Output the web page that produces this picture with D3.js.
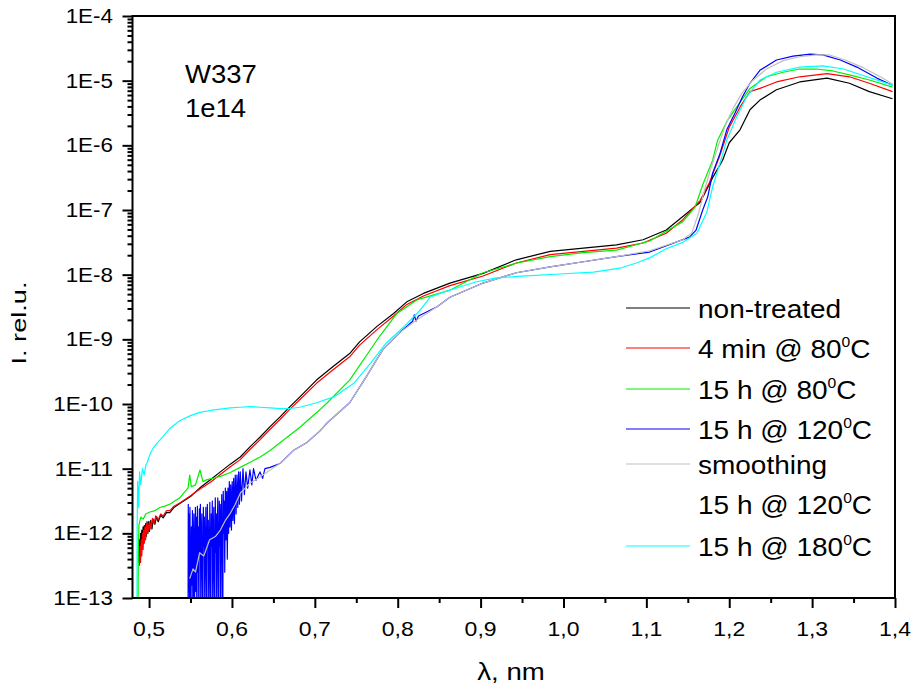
<!DOCTYPE html>
<html><head><meta charset="utf-8">
<script src="https://cdn.jsdelivr.net/npm/d3@7"></script>
<style>
body{margin:0;background:#fff;}
text{font-family:"Liberation Sans",Arial,sans-serif;fill:#000;}
</style>
</head><body>
<svg id="c" width="912" height="685"></svg>
<script>
// ---------- DATA (wavelength nm, log10 of relative intensity) ----------
const xTicks = [0.5,0.6,0.7,0.8,0.9,1.0,1.1,1.2,1.3,1.4];
const xTickLabels = ["0,5","0,6","0,7","0,8","0,9","1,0","1,1","1,2","1,3","1,4"];
const yTickExps = [-4,-5,-6,-7,-8,-9,-10,-11,-12,-13];
const yTickLabels = ["1E-4","1E-5","1E-6","1E-7","1E-8","1E-9","1E-10","1E-11","1E-12","1E-13"];

const nonTreated = [
[0.4875,-12.45],[0.4882,-12.1],[0.489,-12.35],[0.4897,-12.0],[0.4905,-12.3],[0.4912,-11.95],[0.492,-12.2],
[0.4928,-11.9],[0.4935,-12.15],[0.4943,-11.88],[0.495,-12.1],[0.4958,-11.85],[0.4965,-12.05],[0.4975,-11.82],
[0.4985,-12.0],[0.4995,-11.82],[0.5005,-11.97],[0.502,-11.8],[0.5035,-11.93],[0.505,-11.78],[0.507,-11.86],
[0.509,-11.74],[0.511,-11.82],[0.514,-11.72],[0.517,-11.76],[0.521,-11.68],[0.525,-11.68],[0.530,-11.6],
[0.537,-11.54],[0.550,-11.43],[0.561,-11.3],[0.574,-11.17],[0.586,-11.05],[0.598,-10.93],[0.610,-10.82],
[0.622,-10.66],[0.634,-10.51],[0.646,-10.35],[0.658,-10.2],[0.670,-10.04],[0.682,-9.89],[0.702,-9.63],
[0.722,-9.42],[0.742,-9.22],[0.754,-9.04],[0.775,-8.80],[0.795,-8.60],[0.811,-8.42],[0.831,-8.29],
[0.863,-8.13],[0.903,-7.98],[0.943,-7.77],[0.984,-7.64],[1.024,-7.59],[1.064,-7.54],[1.096,-7.46],
[1.124,-7.31],[1.144,-7.1],[1.165,-6.88],[1.180,-6.5],[1.192,-6.23],[1.200,-5.96],[1.213,-5.76],
[1.225,-5.45],[1.237,-5.30],[1.257,-5.14],[1.285,-5.02],[1.318,-4.96],[1.345,-5.04],[1.369,-5.17],[1.397,-5.28]
];
const min4at80 = [
[0.4885,-12.5],[0.489,-12.2],[0.4897,-12.45],[0.4905,-12.1],[0.4912,-12.35],[0.492,-12.0],[0.4928,-12.25],
[0.4935,-11.95],[0.4943,-12.15],[0.495,-11.9],[0.4958,-12.1],[0.4967,-11.85],[0.4977,-12.0],[0.4987,-11.84],
[0.4997,-11.97],[0.501,-11.82],[0.5025,-11.93],[0.504,-11.77],[0.506,-11.85],[0.508,-11.73],[0.511,-11.79],
[0.514,-11.7],[0.517,-11.73],[0.521,-11.65],[0.525,-11.65],[0.530,-11.58],[0.537,-11.53],[0.550,-11.42],
[0.561,-11.32],[0.574,-11.21],[0.586,-11.09],[0.598,-10.97],[0.610,-10.86],[0.622,-10.70],
[0.634,-10.55],[0.646,-10.39],[0.658,-10.24],[0.670,-10.08],[0.682,-9.93],[0.702,-9.68],[0.722,-9.47],
[0.742,-9.27],[0.754,-9.09],[0.775,-8.85],[0.795,-8.64],[0.811,-8.46],[0.831,-8.33],[0.863,-8.17],
[0.903,-8.02],[0.943,-7.82],[0.984,-7.69],[1.024,-7.64],[1.064,-7.59],[1.096,-7.51],[1.124,-7.36],
[1.144,-7.15],[1.165,-6.85],[1.176,-6.58],[1.188,-6.18],[1.200,-5.72],[1.213,-5.41],[1.225,-5.17],
[1.237,-5.12],[1.257,-5.02],[1.285,-4.94],[1.318,-4.89],[1.345,-4.94],[1.369,-5.04],[1.397,-5.17]
];
const h15at80 = [
[0.4866,-13.5],[0.487,-12.3],[0.4878,-11.87],[0.490,-11.75],[0.493,-11.78],[0.496,-11.7],[0.501,-11.67],
[0.507,-11.65],[0.513,-11.6],[0.519,-11.58],[0.525,-11.55],[0.531,-11.5],[0.537,-11.45],[0.543,-11.36],
[0.547,-11.3],[0.549,-11.1],[0.551,-11.28],[0.556,-11.25],[0.5614,-11.02],[0.565,-11.2],[0.570,-11.17],
[0.580,-11.14],[0.586,-11.12],[0.598,-11.06],[0.610,-10.98],[0.622,-10.90],[0.634,-10.82],[0.646,-10.72],
[0.658,-10.60],[0.670,-10.48],[0.682,-10.36],[0.706,-10.09],[0.715,-9.98],[0.742,-9.63],[0.775,-9.01],
[0.799,-8.6],[0.823,-8.39],[0.863,-8.24],[0.903,-7.97],[0.944,-7.82],[0.984,-7.72],[1.024,-7.66],
[1.064,-7.62],[1.104,-7.48],[1.144,-7.18],[1.159,-6.95],[1.168,-6.61],[1.180,-6.23],[1.186,-5.92],
[1.198,-5.61],[1.209,-5.41],[1.225,-5.12],[1.245,-4.94],[1.265,-4.87],[1.285,-4.82],[1.305,-4.82],
[1.325,-4.85],[1.345,-4.91],[1.369,-4.99],[1.397,-5.1]
];
const h15at120 = [
[0.5470,-13.5],[0.5473,-11.55],[0.5478,-12.9],[0.5483,-11.7],[0.5488,-13.5],[0.5493,-11.6],[0.5499,-12.5],
[0.5505,-13.5],[0.5511,-11.9],[0.5517,-12.8],[0.5523,-11.65],[0.5529,-13.5],[0.5535,-12.1],[0.5541,-11.7],
[0.5547,-13.5],[0.5553,-12.4],[0.5559,-11.6],[0.5565,-12.9],[0.5571,-11.75],[0.5577,-13.5],[0.5583,-11.58],
[0.5589,-12.6],[0.5595,-11.9],[0.5601,-13.5],[0.5607,-11.62],[0.5613,-12.3],[0.5619,-11.55],[0.5625,-13.5],
[0.5631,-12.0],[0.5637,-11.7],[0.5643,-12.7],[0.5649,-13.5],[0.5655,-11.6],[0.5661,-12.2],[0.5667,-11.75],
[0.5673,-13.5],[0.5679,-12.3],[0.5685,-11.6],[0.5691,-12.5],[0.5697,-13.5],[0.5703,-11.55],[0.5709,-12.1],
[0.5715,-11.8],[0.5721,-13.5],[0.5727,-12.6],[0.5733,-11.52],[0.5739,-12.4],[0.5745,-13.5],[0.5751,-11.7],
[0.5757,-12.2],[0.5763,-11.5],[0.5769,-13.5],[0.5775,-12.1],[0.5781,-11.6],[0.5787,-12.7],[0.5793,-13.5],
[0.5799,-11.45],[0.5805,-12.3],[0.5811,-11.7],[0.5817,-13.5],[0.5823,-12.0],[0.5829,-11.45],[0.5835,-12.5],
[0.5841,-13.5],[0.5847,-11.5],[0.5853,-12.2],[0.5859,-11.55],[0.5865,-13.5],[0.5871,-11.9],[0.5877,-11.4],
[0.5883,-12.3],[0.5889,-13.5],[0.5895,-11.35],[0.5901,-12.0],[0.5907,-11.5],[0.5913,-12.6],[0.5920,-11.3],
[0.5928,-12.1],[0.5936,-11.35],[0.5944,-12.4],[0.5952,-11.3],[0.5960,-12.0],[0.5968,-11.2],[0.5976,-11.9],
[0.5985,-11.25],[0.5994,-11.95],[0.6003,-11.2],[0.6012,-11.8],[0.6021,-11.15],[0.6030,-11.85],[0.6040,-11.1],
[0.6050,-11.7],[0.6060,-11.1],[0.6070,-11.6],[0.6080,-11.05],[0.6090,-11.55],[0.6100,-11.05],[0.6115,-11.5],
[0.6133,-11.0],[0.6150,-11.4],[0.6169,-11.05],[0.6190,-11.3],[0.6217,-11.02],[0.6240,-11.25],[0.6260,-11.0],
[0.6290,-11.18],[0.6338,-11.05],[0.6370,-11.15],[0.6398,-11.0],[0.6459,-10.98],[0.658,-10.92],[0.674,-10.72],
[0.690,-10.6],[0.706,-10.42],[0.715,-10.29],[0.742,-9.98],[0.762,-9.58],[0.782,-9.16],[0.802,-8.9],
[0.818,-8.72],[0.820,-8.62],[0.822,-8.72],[0.825,-8.64],[0.847,-8.5],[0.863,-8.35],[0.903,-8.13],
[0.943,-7.97],[0.984,-7.88],[1.024,-7.80],[1.064,-7.72],[1.104,-7.65],[1.152,-7.42],[1.160,-7.31],
[1.168,-7.0],[1.174,-6.8],[1.180,-6.43],[1.189,-6.12],[1.197,-5.76],[1.207,-5.5],[1.216,-5.25],
[1.225,-5.04],[1.237,-4.84],[1.257,-4.68],[1.277,-4.62],[1.298,-4.59],[1.313,-4.6],[1.334,-4.68],
[1.354,-4.79],[1.378,-4.96],[1.397,-5.07]
];
const smoothing120 = [
[0.549,-12.7],[0.553,-12.55],[0.556,-12.6],[0.561,-12.3],[0.566,-12.35],[0.573,-12.1],[0.580,-12.05],
[0.586,-11.95],[0.592,-11.8],[0.598,-11.69],[0.604,-11.55],[0.610,-11.38],[0.616,-11.3],[0.622,-11.22],
[0.634,-11.13],[0.646,-11.02],[0.658,-10.92],[0.674,-10.72],[0.690,-10.6],[0.706,-10.42],[0.715,-10.29],
[0.742,-9.98],[0.762,-9.58],[0.782,-9.16],[0.802,-8.9],[0.823,-8.7],[0.847,-8.5],[0.863,-8.35],
[0.903,-8.13],[0.943,-7.97],[0.984,-7.88],[1.024,-7.80],[1.064,-7.72],[1.104,-7.63],[1.144,-7.46],
[1.155,-7.35],[1.163,-7.05],[1.170,-6.7],[1.178,-6.35],[1.187,-6.0],[1.195,-5.7],[1.205,-5.42],
[1.215,-5.2],[1.228,-5.0],[1.245,-4.82],[1.265,-4.69],[1.285,-4.63],[1.305,-4.6],[1.320,-4.6],
[1.340,-4.68],[1.360,-4.79],[1.385,-4.96],[1.397,-5.05]
];
const h15at180 = [
[0.4854,-13.5],[0.4856,-11.9],[0.4862,-11.2],[0.4875,-11.6],[0.4885,-11.05],[0.490,-11.25],[0.492,-11.0],
[0.494,-11.1],[0.496,-10.95],[0.498,-10.9],[0.501,-10.78],[0.505,-10.68],[0.510,-10.6],[0.517,-10.5],
[0.525,-10.38],[0.537,-10.26],[0.550,-10.18],[0.561,-10.13],[0.574,-10.1],[0.586,-10.08],[0.598,-10.06],
[0.610,-10.05],[0.622,-10.04],[0.634,-10.05],[0.646,-10.06],[0.658,-10.07],[0.670,-10.07],[0.682,-10.05],
[0.702,-9.98],[0.723,-9.89],[0.747,-9.68],[0.767,-9.37],[0.786,-9.06],[0.807,-8.81],[0.827,-8.55],
[0.839,-8.35],[0.855,-8.27],[0.875,-8.19],[0.895,-8.11],[0.919,-8.05],[0.955,-8.02],[0.996,-7.99],
[1.036,-7.96],[1.068,-7.9],[1.088,-7.82],[1.104,-7.74],[1.124,-7.6],[1.144,-7.5],[1.161,-7.36],
[1.173,-7.03],[1.180,-6.64],[1.189,-6.27],[1.197,-5.92],[1.209,-5.56],[1.221,-5.25],[1.237,-4.99],
[1.257,-4.87],[1.285,-4.79],[1.313,-4.77],[1.338,-4.82],[1.366,-4.94],[1.397,-5.07]
];

const seriesList = [
  {name:"non-treated", sup:null, color:"#000000", data:nonTreated},
  {name:"4 min @ 80", sup:"C", color:"#ff0000", data:min4at80},
  {name:"15 h @ 80", sup:"C", color:"#00ee00", data:h15at80},
  {name:"15 h @ 120", sup:"C", color:"#0000ff", data:h15at120},
  {name:"smoothing", sup:null, color:"#c0c0c0", data:smoothing120},
  {name:"15 h @ 180", sup:"C", color:"#00ffff", data:h15at180}
];

// ---------- LAYOUT ----------
const L = 132.5, R = 895, T = 16, B = 598;
const svg = d3.select("#c");
const x = d3.scaleLinear().domain([0.48, 1.4]).range([L, R]);
const y = d3.scaleLog().domain([1e-13, 1e-4]).range([B, T]);

function txt(g, px, py, s, size, anchor, sx) {
  return g.append("text")
    .attr("transform", `translate(${px},${py}) scale(${sx},1)`)
    .attr("text-anchor", anchor)
    .style("font-size", size + "px")
    .text(s);
}

// clip
svg.append("defs").append("clipPath").attr("id","clip")
  .append("rect").attr("x",L).attr("y",T).attr("width",R-L).attr("height",B-T);

// lines
const line = d3.line().x(d => x(d[0])).y(d => y(Math.pow(10, d[1])));
const gLines = svg.append("g").attr("clip-path","url(#clip)");
seriesList.forEach(s => {
  gLines.append("path").attr("d", line(s.data))
    .attr("fill","none").attr("stroke", s.color).attr("stroke-width", 1.2)
    .attr("stroke-linejoin","round");
});

// axes
const majY = yTickExps.map(e => Math.pow(10, e));
const minY = [];
for (let e = -13; e < -4; e++) for (let k = 2; k <= 9; k++) minY.push(k * Math.pow(10, e));
const minX = [0.55,0.65,0.75,0.85,0.95,1.05,1.15,1.25,1.35];

function styleAxis(g){
  g.select(".domain").remove();
  g.selectAll("line").attr("stroke","#000").attr("stroke-width",2);
}
svg.append("g").attr("transform",`translate(${L},0)`)
  .call(d3.axisLeft(y).tickValues(majY).tickSize(10).tickFormat("")).call(styleAxis);
svg.append("g").attr("transform",`translate(${L},0)`)
  .call(d3.axisLeft(y).tickValues(minY).tickSize(5).tickFormat("")).call(styleAxis);
svg.append("g").attr("transform",`translate(0,${B})`)
  .call(d3.axisBottom(x).tickValues(xTicks).tickSize(10).tickFormat("")).call(styleAxis);
svg.append("g").attr("transform",`translate(0,${B})`)
  .call(d3.axisBottom(x).tickValues(minX).tickSize(5).tickFormat("")).call(styleAxis);

// frame
svg.append("rect").attr("x",L).attr("y",T).attr("width",R-L).attr("height",B-T)
  .attr("fill","none").attr("stroke","#000").attr("stroke-width",2);

// tick labels
const gl = svg.append("g");
yTickExps.forEach((e,i) => {
  txt(gl, 113, y(Math.pow(10,e)) + 7, yTickLabels[i], 19.5, "end", 1.15);
});
xTicks.forEach((v,i) => {
  txt(gl, x(v), 636, xTickLabels[i], 20, "middle", 1.15);
});

// axis titles
txt(gl, 511, 680, "λ, nm", 24, "middle", 1.15);
gl.append("text")
  .attr("transform", "translate(26,323) rotate(-90) scale(1.36,1)")
  .attr("text-anchor","middle").style("font-size","20px").text("I. rel.u.");

// sample annotation
txt(gl, 185, 83, "W337", 25, "start", 1.1);
txt(gl, 185, 117, "1e14", 25, "start", 1.1);

// legend
const legRows = [
  {i:0, ly:308}, {i:1, ly:348}, {i:2, ly:389}, {i:3, ly:429}, {i:4, ly:464}, {i:-1, ly:504, label:"15 h @ 120", sup:"C"}, {i:5, ly:546}
];
const gLeg = svg.append("g");
legRows.forEach(r => {
  const s = r.i >= 0 ? seriesList[r.i] : null;
  if (s) {
    gLeg.append("line").attr("x1",626).attr("x2",690).attr("y1",r.ly).attr("y2",r.ly)
      .attr("stroke", s.color).attr("stroke-width",1.2);
  }
  const label = s ? s.name : r.label;
  const sup = s ? s.sup : r.sup;
  const t = gLeg.append("text")
    .attr("transform", `translate(698,${r.ly + 10}) scale(1.12,1)`)
    .style("font-size","25px");
  t.append("tspan").text(label);
  if (sup) {
    t.append("tspan").attr("dy",-11).style("font-size","14px").text("0");
    t.append("tspan").attr("dy",11).style("font-size","25px").text(sup);
  }
});
</script>
</body></html>
